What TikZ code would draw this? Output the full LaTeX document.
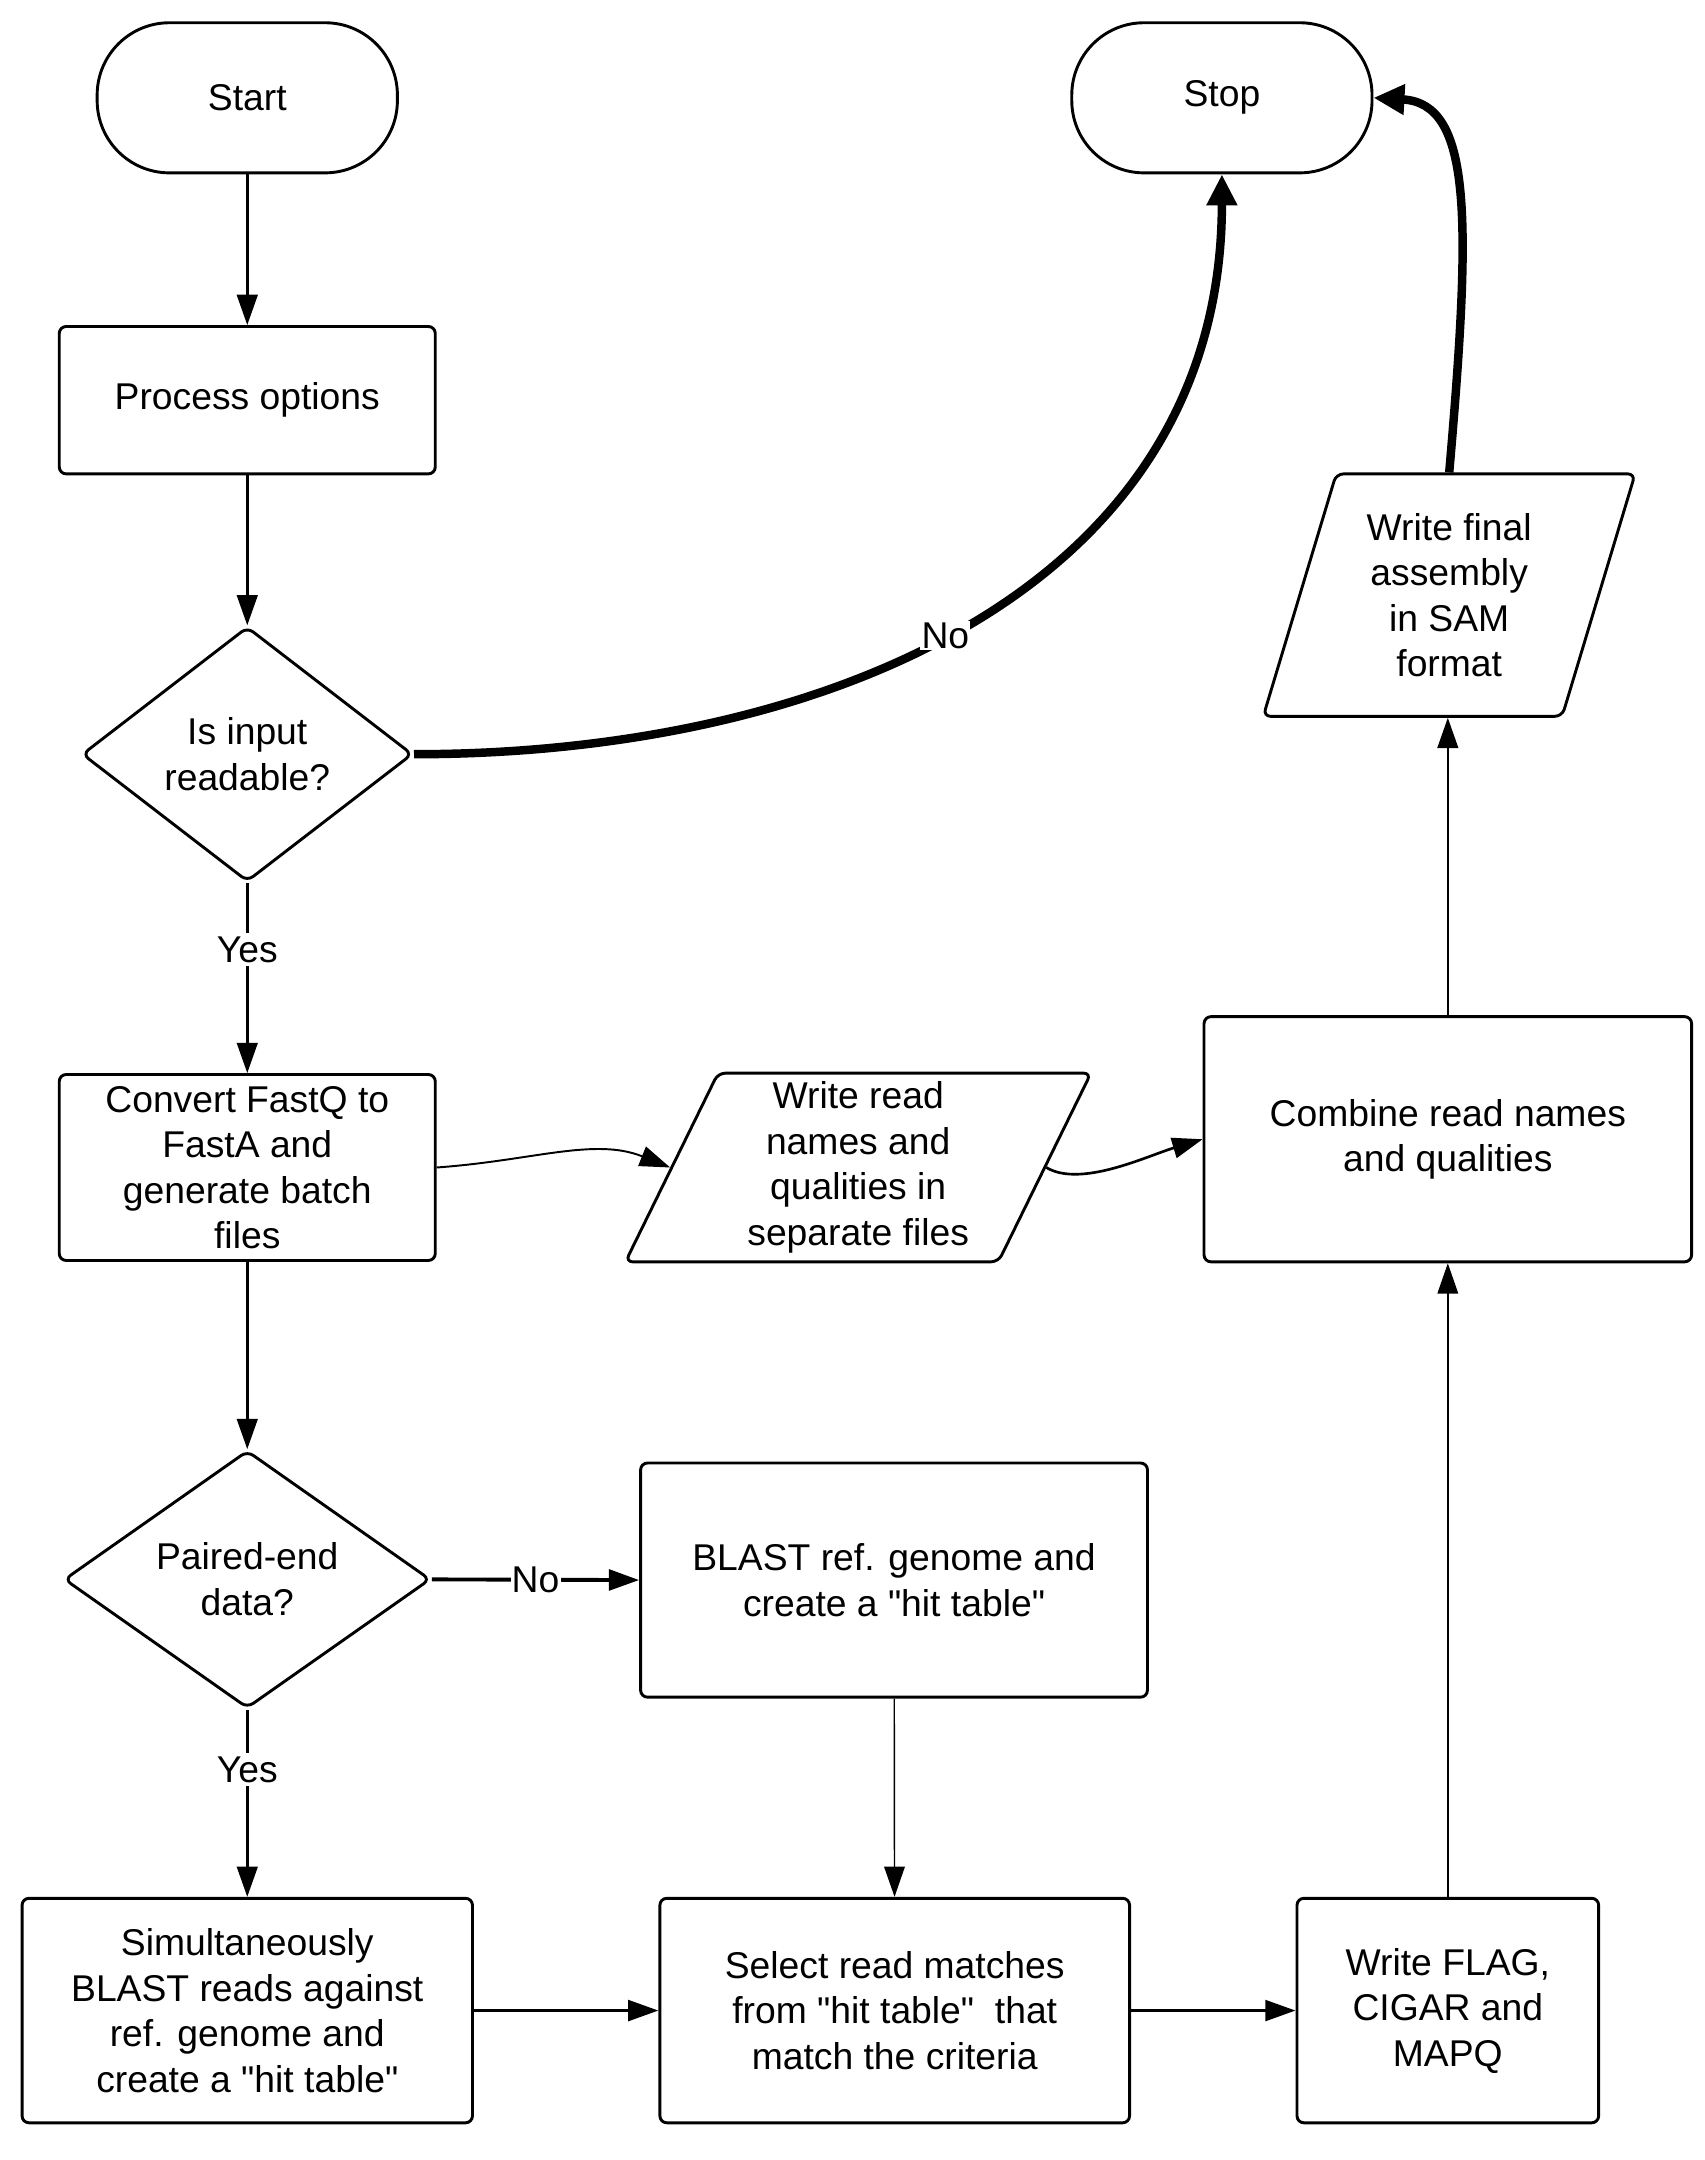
\documentclass[tikz,border=0pt]{standalone}
\usepackage{fontspec}
\setmainfont{Liberation Sans}[Ligatures=TeXOff]
\usetikzlibrary{shapes.geometric,arrows.meta}
\begin{document}
\begin{tikzpicture}[x=0.02cm,y=-0.02cm,
  font=\fontsize{15.4}{18.8}\selectfont,
  box/.style={draw, line width=1.2pt, rounded corners=0.1cm, align=center, inner sep=0pt},
  term/.style={box, rounded corners=1.05cm},
  dec/.style={diamond, draw, line width=1.2pt, rounded corners=3pt, align=center, inner sep=0pt},
  para/.style={trapezium, trapezium stretches body, draw, line width=1.2pt, rounded corners=3pt, align=center, inner sep=0pt},
  arr/.style={-{Triangle[length=0.44cm,width=0.3cm]}, line width=1.1pt},
  thinarr/.style={arr, line width=0.6pt},
  thickarr/.style={-{Triangle[length=0.45cm,width=0.42cm]}, line width=3.5pt},
  lab/.style={fill=white, inner sep=1.5pt}]
\fill[white] (0,0) rectangle (1237,1568);
\useasboundingbox (0,0) rectangle (1237,1568);

\node[term, minimum width=4.36cm, minimum height=2.18cm] (start) at (179.5,71) {Start};
\node[term, minimum width=4.36cm, minimum height=2.18cm] (stop) at (887,71) {Stop};
\node[box, minimum width=5.46cm, minimum height=2.14cm] (proc) at (179.5,290.5) {Process options};
\node[dec, minimum width=4.8cm, minimum height=3.7cm] (d1) at (179.5,547.5) {Is input\\readable?};
\node[box, minimum width=5.46cm, minimum height=2.7cm] (conv) at (179.5,847.5) {Convert FastQ to\\FastA and\\generate batch\\files};
\node[para, trapezium left angle=61.6, trapezium right angle=118.4, minimum width=6.76cm, minimum height=2.74cm] (wr) at (623,847.5) {Write read\\names and\\qualities in\\separate files};
\node[box, minimum width=7.08cm, minimum height=3.56cm] (comb) at (1051,827) {Combine read names\\and qualities};
\node[para, trapezium left angle=66, trapezium right angle=114, minimum width=5.4cm, minimum height=3.52cm] (wf) at (1052,432) {Write final\\assembly\\in SAM\\format};
\node[dec, minimum width=5.32cm, minimum height=3.74cm] (d2) at (179.5,1146.5) {Paired-end\\data?};
\node[box, minimum width=7.36cm, minimum height=3.4cm] (blast) at (649,1147) {BLAST ref. genome and\\create a "hit table"};
\node[box, minimum width=6.54cm, minimum height=3.26cm] (sim) at (179.5,1459.5) {Simultaneously\\BLAST reads against\\ref. genome and\\create a "hit table"};
\node[box, minimum width=6.82cm, minimum height=3.26cm] (sel) at (649.5,1459.5) {Select read matches\\from "hit table"\ \ that\\match the criteria};
\node[box, minimum width=4.38cm, minimum height=3.26cm] (flag) at (1051,1459.5) {Write FLAG,\\CIGAR and\\MAPQ};

\draw[arr] (start) -- (proc);
\draw[arr] (proc) -- (d1);
\draw[arr] (d1) -- node[lab,pos=0.35]{Yes} (conv);
\draw[thickarr] (d1.east) .. controls +(300,0) and +(0,300) .. node[lab,pos=0.47,inner sep=0.5pt]{No} (stop.south);
\draw[arr, line width=0.8pt] (conv.east) .. controls +(70,-5) and +(-55,-22) .. (wr.left side);
\draw[arr] (wr.right side) .. controls +(25,15) and +(-40,12) .. (comb.west);
\draw[arr, line width=0.9pt] (comb.north) -- (comb.north |- wf.south);
\draw[thickarr] (wf.north) .. controls +(16,-184) and +(72,4) .. (stop.east);
\draw[arr] (conv) -- (d2);
\draw[arr, line width=1.6pt] (d2.east) -- node[lab,pos=0.5,inner sep=0.5pt]{No} (blast.west);
\draw[arr] (d2) -- node[lab,pos=0.32]{Yes} (sim);
\draw[thinarr] (blast) -- (sel);
\draw[arr, line width=1.4pt] (sim) -- (sel);
\draw[arr, line width=1.4pt] (sel) -- (flag);
\draw[thinarr] (flag.north) -- (flag.north |- comb.south);
\end{tikzpicture}
\end{document}
